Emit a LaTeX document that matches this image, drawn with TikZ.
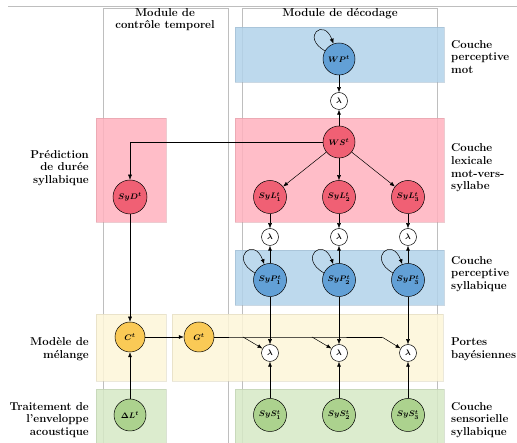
\documentclass[tikz,border=0pt]{standalone}
\usepackage{bm}
\usetikzlibrary{arrows.meta}
\definecolor{bblue}{RGB}{178,210,234}
\definecolor{nblue}{RGB}{98,160,214}
\definecolor{bred}{RGB}{255,178,190}
\definecolor{nred}{RGB}{240,96,116}
\definecolor{byel}{RGB}{253,246,216}
\definecolor{nyel}{RGB}{250,202,86}
\definecolor{bgreen}{RGB}{214,233,198}
\definecolor{ngreen}{RGB}{172,210,142}
\definecolor{modline}{RGB}{190,190,190}
\begin{document}
\begin{tikzpicture}[x=1pt,y=1pt,
  band/.style={fill=#1, fill opacity=0.85, draw=#1!85!black, draw opacity=0.5, line width=0.3pt},
  modbox/.style={draw=modline, line width=0.5pt},
  var/.style={circle, draw, line width=0.5pt, fill=#1, minimum size=33pt, inner sep=0pt, font=\fontsize{8.5}{9}\selectfont},
  lam/.style={circle, draw, line width=0.5pt, fill=white, minimum size=17pt, inner sep=0pt, font=\fontsize{8.5}{9}\selectfont},
  arr/.style={-{Latex[length=5pt,width=4pt]}, line width=0.5pt},
  ln/.style={line width=0.5pt},
  lbl/.style={font=\fontsize{11.4}{12.6}\selectfont\bfseries, inner sep=0pt},
]
\useasboundingbox (0,0) rectangle (517,443);
% frame lines
\draw[modline, line width=0.6pt] (8,437) -- (517,437);
\draw[modbox] (103,-2) -- (103,435) -- (228,435) -- (228,-2);
\draw[modbox] (242,-2) -- (242,435) -- (437,435) -- (437,-2);
% bands
\path[band=bblue] (235,361) rectangle (444,416);
\path[band=bred] (235,221) rectangle (444,325);
\path[band=bred] (96,221) rectangle (166,325);
\path[band=bblue] (235,138) rectangle (444,193);
\path[band=byel] (96,62) rectangle (166,129);
\path[band=byel] (172,62) rectangle (443,129);
\path[band=bgreen] (96,-2) rectangle (166,54);
\path[band=bgreen] (235,-2) rectangle (444,54);
% titles
\node[lbl, align=center, anchor=north] (t1) at (165,435) {Module de\\contrôle temporel};
\node[lbl, align=center, anchor=north] (t2) at (340,435) {Module de décodage};
% right labels
\node[lbl, align=left, anchor=west] (r1) at (451,386) {Couche\\perceptive\\mot};
\node[lbl, align=left, anchor=west] (r2) at (451,275) {Couche\\lexicale\\mot-vers-\\syllabe};
\node[lbl, align=left, anchor=west] (r3) at (451,169) {Couche\\perceptive\\syllabique};
\node[lbl, align=left, anchor=west] (r4) at (451,94) {Portes\\bayésiennes};
\node[lbl, align=left, anchor=west] (r5) at (451,23) {Couche\\sensorielle\\syllabique};
% left labels
\node[lbl, align=right, anchor=east] (l1) at (89,275) {Prédiction\\de durée\\syllabique};
\node[lbl, align=right, anchor=east] (l2) at (89,94) {Modèle de\\mélange};
\node[lbl, align=right, anchor=east] (l3) at (89,23) {Traitement de\\l'enveloppe\\acoustique};
% nodes
\node[var=nblue, minimum size=32pt] (WP) at (339,384) {$\bm{WP^t}$};
\node[lam] (lam0) at (339,342) {$\bm{\lambda}$};
\node[var=nred, minimum size=32pt] (WS) at (339,301) {$\bm{WS^t}$};
\node[var=nred, minimum size=34pt] (SyD) at (130,246) {$\bm{SyD^t}$};
\foreach \i/\x in {1/270,2/339,3/408}{
  \node[var=nred] (SyL\i) at (\x,246) {$\bm{SyL^t_\i}$};
  \node[lam] (lamL\i) at (\x,206) {$\bm{\lambda}$};
  \node[var=nblue] (SyP\i) at (\x,163) {$\bm{SyP^t_\i}$};
  \node[lam] (gate\i) at (\x,90) {$\bm{\lambda}$};
  \node[var=ngreen] (SyS\i) at (\x,28) {$\bm{SyS^t_\i}$};
}
\node[var=nyel, minimum size=30pt] (C) at (130,106) {$\bm{C^t}$};
\node[var=nyel, minimum size=30pt] (G) at (199,106) {$\bm{G^t}$};
\node[var=ngreen, minimum size=32pt] (DL) at (130,28) {$\bm{\Delta L^t}$};
\coordinate (j1) at (243,106);
\coordinate (j2) at (312,106);
\coordinate (j3) at (382,106);
% edges
\draw[arr] (WP.150) .. controls +(150:28) and +(110:28) .. (WP.110);
\draw[arr] (WP) -- (lam0);
\draw[arr] (WS) -- (lam0);
\draw[arr] (WS.west) -| (SyD.north);
\foreach \i in {1,2,3}{
  \draw[arr] (WS) -- (SyL\i);
  \draw[arr] (SyL\i) -- (lamL\i);
  \draw[arr] (SyP\i) -- (lamL\i);
  \draw[arr] (SyP\i.155) .. controls +(150:30) and +(110:30) .. (SyP\i.110);
  \draw[arr] (SyP\i) -- (gate\i);
  \draw[arr] (SyS\i) -- (gate\i);
}
\draw[arr] (SyD) -- (C);
\draw[arr] (DL) -- (C);
\draw[arr] (C) -- (G);
\draw[ln] (G) -- (j1) -- (j2) -- (j3);
\draw[arr] (j1) -- (gate1);
\draw[arr] (j2) -- (gate2);
\draw[arr] (j3) -- (gate3);
\end{tikzpicture}
\end{document}
